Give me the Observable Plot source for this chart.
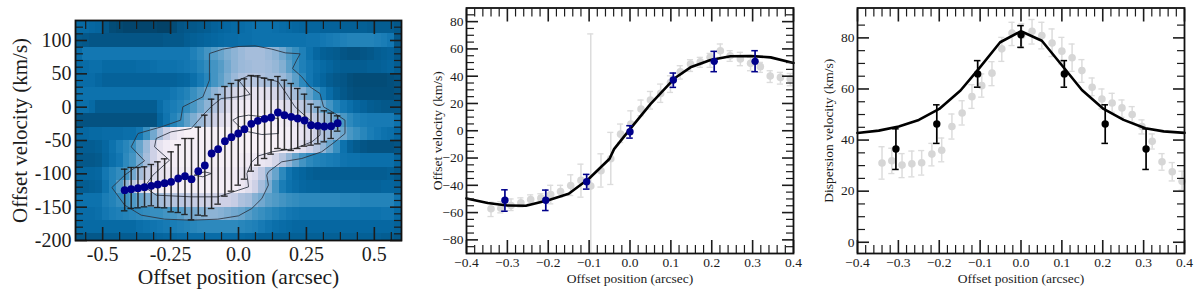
<!DOCTYPE html>
<html>
<head>
<meta charset="utf-8">
<script src="https://cdn.jsdelivr.net/npm/d3@7"></script>
<script src="https://cdn.jsdelivr.net/npm/@observablehq/plot@0.6"></script>
<style>
html,body{margin:0;padding:0;background:#fff}
#root{position:relative;width:1200px;height:298px;overflow:hidden}
#root>svg{position:absolute;top:0;background:transparent}
</style>
</head>
<body>
<div id="root"></div>
<script>
// ---------- Panel 1: position-velocity map ----------
const heatX0 = -0.6, heatDX = 0.025;
const heatVel = [120,100,80,60,40,20,0,-20,-40,-60,-80,-100,-120,-140,-160,-180,-200];
const heat120 = [1.7,1.7,1.6,1.5,1,.6,.5,.4,.4,.4,.4,.4,.3,.3,.6,.9,1,1,1.1,1.2,1.4,1.5,1.6,1.7,1.8,1.9,2,2,2,1.9,1.8,1.7,1.6,1.5,1.5,1.5,1.4,1.4,1.4,1.3,1.3,1.3,1.3,1.2,1.2,1.2,1.2,1];
const heat100 = [1.1,1,.9,.9,.9,.9,.9,.9,.9,.9,.9,.9,.9,1,1,1,1.2,1.3,1.4,1.5,1.6,1.7,1.8,1.8,1.9,1.9,2,2,2,2,2,2,2,2,2.1,2.1,2.2,2.3,2.4,2.5,2.6,2.6,2.6,2.6,2.5,2.4,2.2,1];
const heat80 = [1.8,2.2,2.2,2.2,2.2,2.2,2.2,2.2,2.2,2.2,2.2,2.2,2.2,2.2,2.2,2.2,2.2,2.5,2.8,3.2,3.5,3.8,4.2,4.5,4.8,5,5,5,4.8,4.5,4,3.4,3,2.5,2,1.6,1.3,1.2,1.1,.9,.8,.8,.9,1,1.2,1.3,1.4,1];
const heat60 = [1.7,1.8,1.9,1.9,1.7,1.7,1.7,1.7,1.7,1.8,1.8,1.9,2,2,2,2.1,2.2,2.3,2.6,2.9,3.2,3.5,4,4.5,4.8,4.9,5,5,4.9,4.7,4.3,3.6,3,2.5,2.2,1.9,1.7,1.5,1.3,1.2,1.2,1.2,1.2,1.3,1.3,1.4,1.5,1.2];
const heat40 = [1.8,1.8,1.8,1.6,1.4,1.4,1.4,1.4,1.4,1.4,1.4,1.4,1.4,1.4,1.4,1.5,1.6,1.9,2.3,2.7,3.2,3.6,4.2,4.8,5.2,5.4,5.4,5.2,5,5,4.8,4.3,3.6,2.8,2.2,1.8,1.5,1.2,1,.9,.7,.6,.6,.6,.6,.6,.7,.8];
const heat20 = [2,2,2,2,2,2,2,2,2,2,2,2,2,2,2.2,2.4,2.6,3,3.4,3.9,4.5,5,5.6,6.2,6.6,6.8,6.8,6.8,6.6,6.2,5.8,5.4,5,4.4,3.7,3,2.4,1.8,1.3,1,.8,.7,.7,.7,.7,.7,.7,.8];
const heat0 = [1.9,1.9,1.7,1.2,1.2,1.2,1.2,1.2,1.2,1.2,1.2,1.2,1.8,2.2,2.4,2.6,2.9,3.3,3.9,4.5,5.2,5.8,6.4,7,7.2,7.3,7.3,7.3,7.2,7,6.8,6.4,6,5.6,5,4.4,3.8,3.2,2.6,2.2,1.9,1.6,1.4,1.2,1.1,1,1,1];
const heatM20 = [.8,.8,.8,.8,.8,.8,.8,.8,.8,.8,.8,.8,1.5,2.1,2.6,3,3.6,4.2,4.8,5.4,6,6.5,7,7.3,7.5,7.6,7.6,7.6,7.6,7.5,7.4,7.2,7,6.6,6,5.5,5,4.5,3.9,3.3,2.8,2.5,2.4,2.3,2.3,2.3,2.3,2];
const heatM40 = [1.6,1.6,1.7,1.7,1.8,1.8,1.8,1.9,1.9,2.2,3,4,5,6,6.8,7.3,7.6,7.6,7.6,7.6,7.6,7.6,7.6,7.6,7.7,7.7,7.7,7.7,7.7,7.7,7.6,7.5,7.3,7,6.6,6,5.4,5,4.5,3.9,3.3,3,2.7,2.4,2.2,2,1.9,1.6];
const heatM60 = [1.2,1.2,1.2,1.3,1.6,2,2.4,2.7,3,3.8,4.8,6,6.8,7.3,7.5,7.5,7.5,7.5,7.5,7.5,7.5,7.5,7.5,7.5,7.6,7.6,7.6,7.6,7.6,7.5,7.4,7.2,7,6.6,6,5.4,4.6,3.8,3,2,1.4,1.1,.9,.8,.8,.8,.8,.9];
const heatM80 = [1,1,1,1.1,1.5,1.9,2.2,2.8,3.2,4,5,6,6.8,7.2,7.4,7.5,7.5,7.5,7.5,7.5,7.5,7.5,7.5,7.5,7.4,7.3,7.2,7,6.8,6.2,5.4,4.6,3.8,3.2,2.8,2.6,2.5,2.4,2.3,2.1,2,2,1.9,1.9,1.9,1.9,1.9,1.5];
const heatM100 = [1.5,1.5,1.5,1.6,2.2,2.6,2.9,3.2,4,5,5.8,6.4,6.8,7,7.2,7.3,7.3,7.3,7.3,7.3,7.3,7.3,7.3,7.3,7,6.8,6.4,5.6,4.6,3.8,2.8,2.1,1.7,1.5,1.3,1.2,1.2,1.2,1.2,1.2,1.2,1.2,1.2,1.2,1.2,1.2,1.3,1];
const heatM120 = [1.2,1.2,1.3,1.4,2,2.6,3.5,4.5,5.5,6.4,7,7.3,7.5,7.5,7.5,7.5,7.5,7.5,7.5,7.5,7.5,7.5,7.5,7.5,7,6.6,6,5,4.2,3.2,2.4,2,1.8,1.6,1.5,1.5,1.4,1.4,1.4,1.4,1.4,1.4,1.4,1.4,1.4,1.5,1.5,1.4];
const heatM140 = [2,2,2,2,2.4,2.6,2.9,3.1,3.4,3.8,4.2,4.6,5,5.2,5.4,5.5,5.6,5.8,6,6,6,6,6,5.8,5.2,5,4.4,4,3.6,3.4,3.2,3,2.9,2.8,2.8,2.8,2.8,2.8,2.8,2.7,2.7,2.7,2.6,2.6,2.6,2.6,2.6,2.1];
const heatM160 = [1.8,1.8,1.8,1.9,2.2,2.4,2.5,2.6,2.7,2.8,2.9,3,3,3.2,3.3,3.5,3.9,4.1,4.3,4.5,4.5,4.4,4.2,4,3.8,3.5,3.2,3,2.8,2.6,2.4,2.2,2.1,2,2,2,2,2,2,2,2,2,2,2,2,2.1,2.1,1.7];
const heatM180 = [1.7,1.7,1.7,1.7,1.7,1.7,1.7,1.7,1.7,1.9,2,2.1,2.2,2.3,2.4,2.5,2.6,2.7,2.8,2.8,2.8,2.8,2.8,2.8,2.7,2.6,2.5,2.3,2.1,1.9,1.8,1.7,1.6,1.6,1.6,1.6,1.6,1.6,1.6,1.6,1.6,1.6,1.6,1.6,1.6,1.6,1.6,1.4];
const heatM200 = [1,1,1,1,1.2,1.2,1.2,1.2,1.2,1.3,1.3,1.4,1.5,1.6,1.7,1.8,1.8,1.8,1.8,1.8,1.8,1.8,1.8,1.8,1.7,1.6,1.5,1.4,1.4,1.3,1.3,1.3,1.3,1.3,1.3,1.3,1.3,1.3,1.3,1.3,1.3,1.3,1.3,1.3,1.3,1.2,1.2,1];
const heatRows = [heat120,heat100,heat80,heat60,heat40,heat20,heat0,heatM20,heatM40,heatM60,heatM80,heatM100,heatM120,heatM140,heatM160,heatM180,heatM200];

const contourOuter = [[0,91],[.061,92],[.123,87],[.172,81.5],[.227,80],[.214,70.5],[.199,58],[.233,45.5],[.263,30.5],[.3,20.5],[.313,.5],[.355,-9.5],[.392,-19.5],[.392,-39.5],[.355,-52],[.306,-67],[.233,-77],[.159,-82],[.11,-97],[.104,-102],[.11,-117],[.086,-137],[.049,-152],[0,-163],[-.076,-168],[-.174,-169.5],[-.272,-168],[-.358,-162],[-.419,-147],[-.466,-120.5],[-.419,-102],[-.346,-80.5],[-.395,-59.5],[-.37,-39.5],[-.284,-29.5],[-.213,-19.5],[-.205,.5],[-.131,15.5],[-.107,40.5],[-.107,80.5],[-.058,87],[0,91]];
const contourMiddle = [[0,40.5],[.037,47],[.092,44],[.147,38],[.184,15.5],[.208,.5],[.27,-22],[.3,-32],[.3,-42],[.27,-52],[.208,-62],[.123,-67],[.074,-73],[.049,-82],[.031,-99.5],[.037,-119.5],[0,-124.5],[-.076,-134.5],[-.174,-134.5],[-.303,-132],[-.346,-119.5],[-.315,-102],[-.254,-79.5],[-.309,-59.5],[-.303,-47],[-.248,-37],[-.174,-32],[-.131,-12],[-.1,1],[-.064,13],[0,15.5],[.043,19],[0,40.5]];
const contourInner = [[0,-14.5],[.037,-12],[.147,-17],[.147,-39.5],[.086,-41],[.037,-37],[0,-28],[-.021,-19.5],[0,-14.5]];
const contourBlob = [[-.162,-102],[-.131,-104.5],[-.1,-99.5],[-.125,-97],[-.162,-102]];

const pvX = [-.419,-.395,-.37,-.346,-.321,-.297,-.272,-.248,-.222,-.197,-.173,-.148,-.124,-.099,-.075,-.05,-.026,-.001,.022,.047,.071,.096,.12,.145,.169,.194,.218,.243,.267,.292,.316,.341,.365];
const pvY = [-124.5,-123,-121.5,-120,-118,-116,-114,-112,-107,-103.5,-108,-96,-87.5,-69.5,-63,-51,-45,-39.5,-33,-25,-20.5,-17.5,-15.5,-8,-12,-14.5,-17,-20,-27,-28,-29,-28.5,-24];
const pvTop = [-93,-90.5,-90.5,-89.5,-86,-82,-77.5,-67,-56.5,-47,-47,-30,-12,12,19,31,35.5,40.5,42.5,47.5,47,43.5,41,46,40.5,35.5,28,19.5,4.5,0,-5.5,-9,-13];
const pvBot = [-155.5,-152,-151,-149.5,-148,-150.5,-151,-157,-158,-161,-169,-162,-163,-152,-145.5,-133.5,-126,-117,-108,-96,-87,-77,-70.5,-62,-63.5,-65,-62,-58.5,-57,-55,-52,-47,-36];

// ---------- Panel 2: offset velocity ----------
const velFitX = [-.4,-.348,-.3,-.255,-.2,-.15,-.1,-.05,-.039,0,.05,.11,.148,.197,.246,.295,.344,.4];
const velFitY = [-49.6,-53,-54.8,-55,-51,-46.2,-35,-20.5,-13.5,1.2,19.5,38.7,46.5,51.9,54.6,54.8,53.8,49.7];
const velX = [-.306,-.206,-.106,0,.106,.206,.306];
const velY = [-51,-51,-37.4,-.7,37.2,50.9,50.9];
const velHi = [-43.3,-43.5,-32,3.7,42.3,58.2,58.7];
const velLo = [-59,-58.5,-42.8,-5.4,31.8,43.3,43.3];
const velGrayX = [-.34,-.316,-.291,-.267,-.243,-.218,-.194,-.17,-.145,-.12,-.096,-.071,-.047,-.023,.002,.027,.05,.075,.099,.123,.148,.172,.196,.221,.245,.27,.295,.319,.343,.368,.392];
const velGrayY = [-57.2,-56.8,-54.8,-52.8,-50.4,-49.4,-46.7,-44.5,-40.1,-36.4,-40.6,-29.3,-20.5,-2.5,4.9,15.9,22.5,27.4,35.4,43.3,48.9,50.6,53.8,58.7,55,52.6,49.4,47,40.1,39.1,37.9];
const velGrayHi = [-52.4,-52,-50,-49.2,-47,-46.2,-40,-40,-32.3,-24.5,71,-16.9,-1.2,4.9,14.6,22.5,28.8,34.2,40.3,47.7,52.1,53.8,56.7,63.6,58.7,57.5,53.8,50.1,44,42.8,42];
const velGrayLo = [-62.9,-60.2,-58.5,-56,-53.6,-52.4,-53.6,-48.7,-47.5,-48.7,-90,-41.3,-39.4,-8.6,-2.5,11,15.9,20.8,28.1,37.9,43.5,46.5,46.5,53.8,50.9,47.7,44,42.8,35.4,34.2,33];

// ---------- Panel 3: dispersion velocity ----------
const dispFitX = [-.4,-.348,-.299,-.25,-.2,-.148,-.104,-.051,0,.051,.104,.149,.202,.251,.304,.349,.4];
const dispFitY = [42.8,43.7,45.3,47.9,52.2,59.4,67.8,78.3,82.6,78.9,68.5,59.6,52.2,47.9,44.6,43.4,42.8];
const dispX = [-.306,-.206,-.106,0,.106,.206,.306];
const dispY = [36.5,46.3,65.9,81.2,65.9,46.3,36.5];
const dispHi = [44.4,53.8,71.1,84.8,71.1,53.8,44.4];
const dispLo = [28.5,38.7,60.7,76.3,60.7,38.7,28.5];
const dispGrayX = [-.34,-.316,-.291,-.267,-.243,-.218,-.194,-.169,-.144,-.12,-.096,-.071,-.047,-.022,.002,.027,.051,.076,.1,.125,.149,.174,.198,.223,.247,.272,.296,.321,.345,.37,.394];
const dispGrayY = [31,31.9,30.2,30.7,31.1,34.5,36,45.3,50.6,57,61.3,66.2,75.7,81.9,80.9,82.6,80.9,78,74.8,72.2,67.2,60.7,56.1,54.5,52.6,50,45.3,39.5,31.5,27.6,23.9];
const dispGrayHi = [37.4,36.8,34.7,35.7,35.9,38.7,40.8,50.2,55.4,61.7,65.9,70.7,80.2,86.1,85.5,87.2,86.1,83.5,80.2,77.6,71.5,64.3,60,58.3,55.7,53.1,47.9,42.4,34.7,31.2,27.8];
const dispGrayLo = [24.7,26.9,25.3,25.6,26.3,29.9,31.5,40.4,45.9,52.4,56.8,61.3,70.8,77,76,77.6,75.7,72.7,69.8,66.9,62.6,57.4,52.2,50.9,48.9,47,42.4,36.5,28.2,24,20.4];

// ---------- Ticks and labels ----------
const pvXTicks = [-0.5,-0.25,0,0.25,0.5];
const pvXMinor = [-0.5625,-0.4375,-0.375,-0.3125,-0.1875,-0.125,-0.0625,0.0625,0.125,0.1875,0.3125,0.375,0.4375,0.5625];
const pvYTicks = [-200,-150,-100,-50,0,50,100];
const offXTicks = [-0.4,-0.3,-0.2,-0.1,0,0.1,0.2,0.3,0.4];
const offXMinor = d3.range(-38,39,2).map(d=>d/100).filter(d=>Math.abs(d*100)%10>0.01);
const velYTicks = [-80,-60,-40,-20,0,20,40,60,80];
const dispYTicks = [0,20,40,60,80];
const xTitle = "Offset position (arcsec)";
const ink = "#1c1c1c", serif = "'Liberation Serif', serif";

const table = (xs, ...cols) => xs.map((x,i)=>({x, a:cols[0]?.[i], b:cols[1]?.[i], c:cols[2]?.[i]}));

function ticks(xMajor,xMinor,yMajor,yMinor){
  const opt = {stroke:ink, fill:"none"};
  const out = [];
  for (const a of ["bottom","top"]) {
    out.push(Plot.axisX(xMajor,{...opt,anchor:a,tickSize:-13,strokeWidth:1.6,label:null}));
    out.push(Plot.axisX(xMinor,{...opt,anchor:a,tickSize:-8,strokeWidth:1.2,label:null}));
  }
  for (const a of ["left","right"]) {
    out.push(Plot.axisY(yMajor,{...opt,anchor:a,tickSize:-12,strokeWidth:1.6,label:null}));
    out.push(Plot.axisY(yMinor,{...opt,anchor:a,tickSize:-8,strokeWidth:1.2,label:null}));
  }
  return out;
}
function errorBars(rows,capHalf,stroke,strokeWidth,extra={}){
  return [
    Plot.ruleX(rows,{x:"x",y1:"b",y2:"c",stroke,strokeWidth,...extra}),
    Plot.ruleY(rows,{y:"b",x1:d=>d.x-capHalf,x2:d=>d.x+capHalf,stroke,strokeWidth:strokeWidth*.9,...extra}),
    Plot.ruleY(rows,{y:"c",x1:d=>d.x-capHalf,x2:d=>d.x+capHalf,stroke,strokeWidth:strokeWidth*.9,...extra})
  ];
}

// ---------- Panel 1 ----------
const heatCells = heatRows.flatMap((row,r)=>row.map((v,c)=>({
  x1:heatX0+c*heatDX, x2:heatX0+(c+1)*heatDX, y1:heatVel[r]-10, y2:heatVel[r]+10, v
})));
const contours = [contourOuter,contourMiddle,contourInner,contourBlob]
  .flatMap((pts,id)=>pts.map(([x,y])=>({x,y,id})));
const pvRows = table(pvX,pvY,pvTop,pvBot);

const p1 = Plot.plot({
  width:420,height:298,marginLeft:75,marginRight:19,marginTop:20,marginBottom:58,
  style:{fontFamily:serif,background:"transparent",overflow:"visible"},
  x:{domain:[-0.6,0.6]},y:{domain:[-200,130]},
  color:{type:"linear",scheme:"PuBu",reverse:true,domain:[0,8]},
  marks:[
    Plot.rect(heatCells,{x1:"x1",x2:"x2",y1:"y1",y2:"y2",fill:"v",clip:true,inset:0,shapeRendering:"crispEdges"}),
    Plot.line(contours,{x:"x",y:"y",z:"id",stroke:"#2b3340",strokeWidth:1,strokeOpacity:.85,curve:"linear"}),
    ...errorBars(pvRows,0.012,"#1a1a1a",1.5,{strokeOpacity:.9}),
    Plot.dot(pvRows,{x:"x",y:"a",r:3.9,fill:"#00008b",stroke:"none"}),
    ...ticks(pvXTicks,pvXMinor,pvYTicks,d3.range(-190,130,10).filter(d=>d%50)),
    Plot.frame({stroke:"#111",strokeWidth:1.8}),
    Plot.axisX(pvXTicks,{anchor:"bottom",tickSize:0,tickPadding:6,fontSize:20,fill:ink,tickFormat:d=>d===0?"0.0":String(d),label:null}),
    Plot.axisX([],{anchor:"bottom",tickSize:0,fontSize:21.5,fill:ink,label:xTitle,labelAnchor:"center",labelArrow:"none",labelOffset:43}),
    Plot.axisY(pvYTicks,{anchor:"left",tickSize:0,tickPadding:4,fontSize:20,fill:ink,tickFormat:d=>String(d),label:null}),
    Plot.axisY([],{anchor:"left",tickSize:0,fontSize:21,fill:ink,label:"Offset velocity (km/s)",labelAnchor:"center",labelArrow:"none",labelOffset:63})
  ]
});
p1.style.left = "0px";

// ---------- Panels 2 and 3 ----------
function sidePanel({left,width,ml,mr,yDomain,yTicks,yMinor,yTitle,fit,points,gray,mainColor,labelOffset}){
  const svg = Plot.plot({
    width,height:298,marginLeft:ml,marginRight:mr,marginTop:7.5,marginBottom:45,
    style:{fontFamily:serif,background:"transparent",overflow:"visible"},
    x:{domain:[-0.4,0.4]},y:{domain:yDomain},
    marks:[
      ...errorBars(gray,0.0075,"#dcdcdc",1.5),
      Plot.dot(gray,{x:"x",y:"a",r:3.8,fill:"#d6d6d6",stroke:"none"}),
      Plot.line(fit,{x:"x",y:"a",stroke:"#000",strokeWidth:2.6,curve:"linear"}),
      ...errorBars(points,0.008,mainColor,1.7),
      Plot.dot(points,{x:"x",y:"a",r:3.7,fill:mainColor,stroke:"none"}),
      ...ticks(offXTicks,offXMinor,yTicks,yMinor),
      Plot.frame({stroke:"#111",strokeWidth:1.8}),
      Plot.axisX(offXTicks,{anchor:"bottom",tickSize:0,tickPadding:4,fontSize:13.5,fill:ink,tickFormat:d3.format(".1f"),label:xTitle,labelAnchor:"center",labelArrow:"none",labelOffset:29}),
      Plot.axisY(yTicks,{anchor:"left",tickSize:0,tickPadding:3,fontSize:13.5,fill:ink,tickFormat:d3.format("d"),label:yTitle,labelAnchor:"center",labelArrow:"none",labelOffset})
    ]
  });
  svg.style.left = left+"px";
  return svg;
}
const p2 = sidePanel({left:420,width:390,ml:46,mr:17,yDomain:[-90,90],yTicks:velYTicks,
  yMinor:d3.range(-85,90,5).filter(d=>d%20),yTitle:"Offset velocity (km/s)",
  fit:table(velFitX,velFitY),points:table(velX,velY,velHi,velLo),
  gray:table(velGrayX,velGrayY,velGrayHi,velGrayLo),mainColor:"#00008b",labelOffset:34});
const p3 = sidePanel({left:810,width:390,ml:47,mr:16,yDomain:[-4.4,91.7],yTicks:dispYTicks,
  yMinor:d3.range(5,90,5).filter(d=>d%20),yTitle:"Dispersion velocity (km/s)",
  fit:table(dispFitX,dispFitY),points:table(dispX,dispY,dispHi,dispLo),
  gray:table(dispGrayX,dispGrayY,dispGrayHi,dispGrayLo),mainColor:"#000",labelOffset:34});

document.getElementById("root").append(p1,p2,p3);
</script>
</body>
</html>
